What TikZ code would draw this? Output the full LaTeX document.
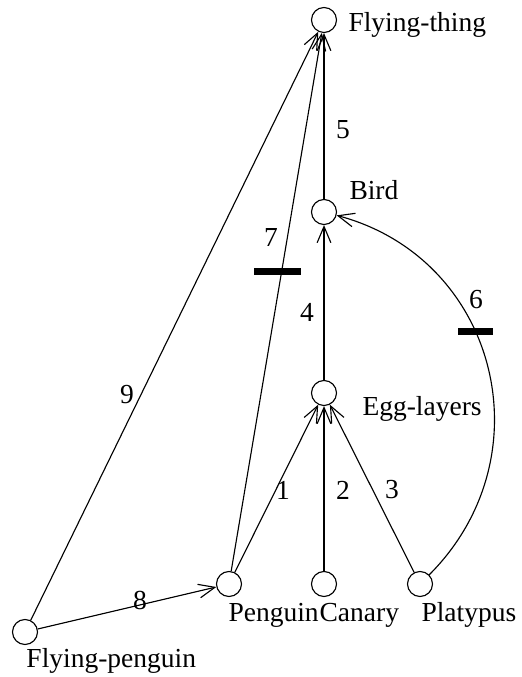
\documentclass[tikz,border=0pt]{standalone}
\usepackage{fontspec}
\setmainfont{Liberation Serif}
\usepackage{tikz}
\usetikzlibrary{arrows.meta}

\begin{document}
\begin{tikzpicture}[x=0.4pt, y=0.4pt, font=\fontsize{11}{13}\selectfont,
  concept/.style={draw, circle, line width=0.45pt, minimum size=10pt, inner sep=0pt},
  lbl/.style={anchor=base west, inner sep=0pt},
  num/.style={inner sep=0pt},
  isa/.style={line width=0.45pt, -{Straight Barb[length=6.5pt, width=5.5pt, line width=0.45pt]}},
  cancel/.style={fill=black, inner sep=0pt, minimum height=2.8pt}]
\useasboundingbox (0,0) rectangle (521,677);
% Concepts
\node[concept] (thing) at (324,657) {};
\node[concept] (bird) at (324,465) {};
\node[concept] (egg) at (324,284) {};
\node[concept] (penguin) at (229,93) {};
\node[concept] (canary) at (324,93) {};
\node[concept] (platypus) at (420,93) {};
\node[concept] (flypenguin) at (25,45) {};
% Concept names
\node[lbl] (thing-name) at (348,645) {Flying-thing};
\node[lbl] (bird-name) at (349,477) {Bird};
\node[lbl] (egg-name) at (362,261) {Egg-layers};
\node[lbl] (penguin-name) at (228,55) {Penguin};
\node[lbl] (canary-name) at (penguin-name.base east) {Canary};
\node[lbl] (platypus-name) at (421,55) {Platypus};
\node[lbl] (flypenguin-name) at (26,9) {Flying-penguin};
% Links
\draw[isa] (penguin) -- (egg);
\draw[isa] (canary) -- (egg);
\draw[isa] (platypus) -- (egg);
\draw[isa] (egg) -- (bird);
\draw[isa] (bird) -- (thing);
\draw[isa] (platypus) to[out=45, in=-15, looseness=1.15] (bird);
\draw[isa] (penguin) -- (thing);
\draw[isa] (flypenguin) -- (penguin);
\draw[isa] (flypenguin) -- (thing);
% Link numbers
\node[num] (n1) at (283,187) {1};
\node[num] (n2) at (343,187) {2};
\node[num] (n3) at (392,187) {3};
\node[num] (n4) at (307,365) {4};
\node[num] (n5) at (343,547) {5};
\node[num] (n6) at (476,377) {6};
\node[num] (n7) at (271,439) {7};
\node[num] (n8) at (140,77) {8};
\node[num] (n9) at (127,282) {9};
% Cancelled links
\node[cancel, minimum width=18.8pt] (bar7) at (277,405) {};
\node[cancel, minimum width=14pt] (bar6) at (475,345) {};
\end{tikzpicture}
\end{document}
